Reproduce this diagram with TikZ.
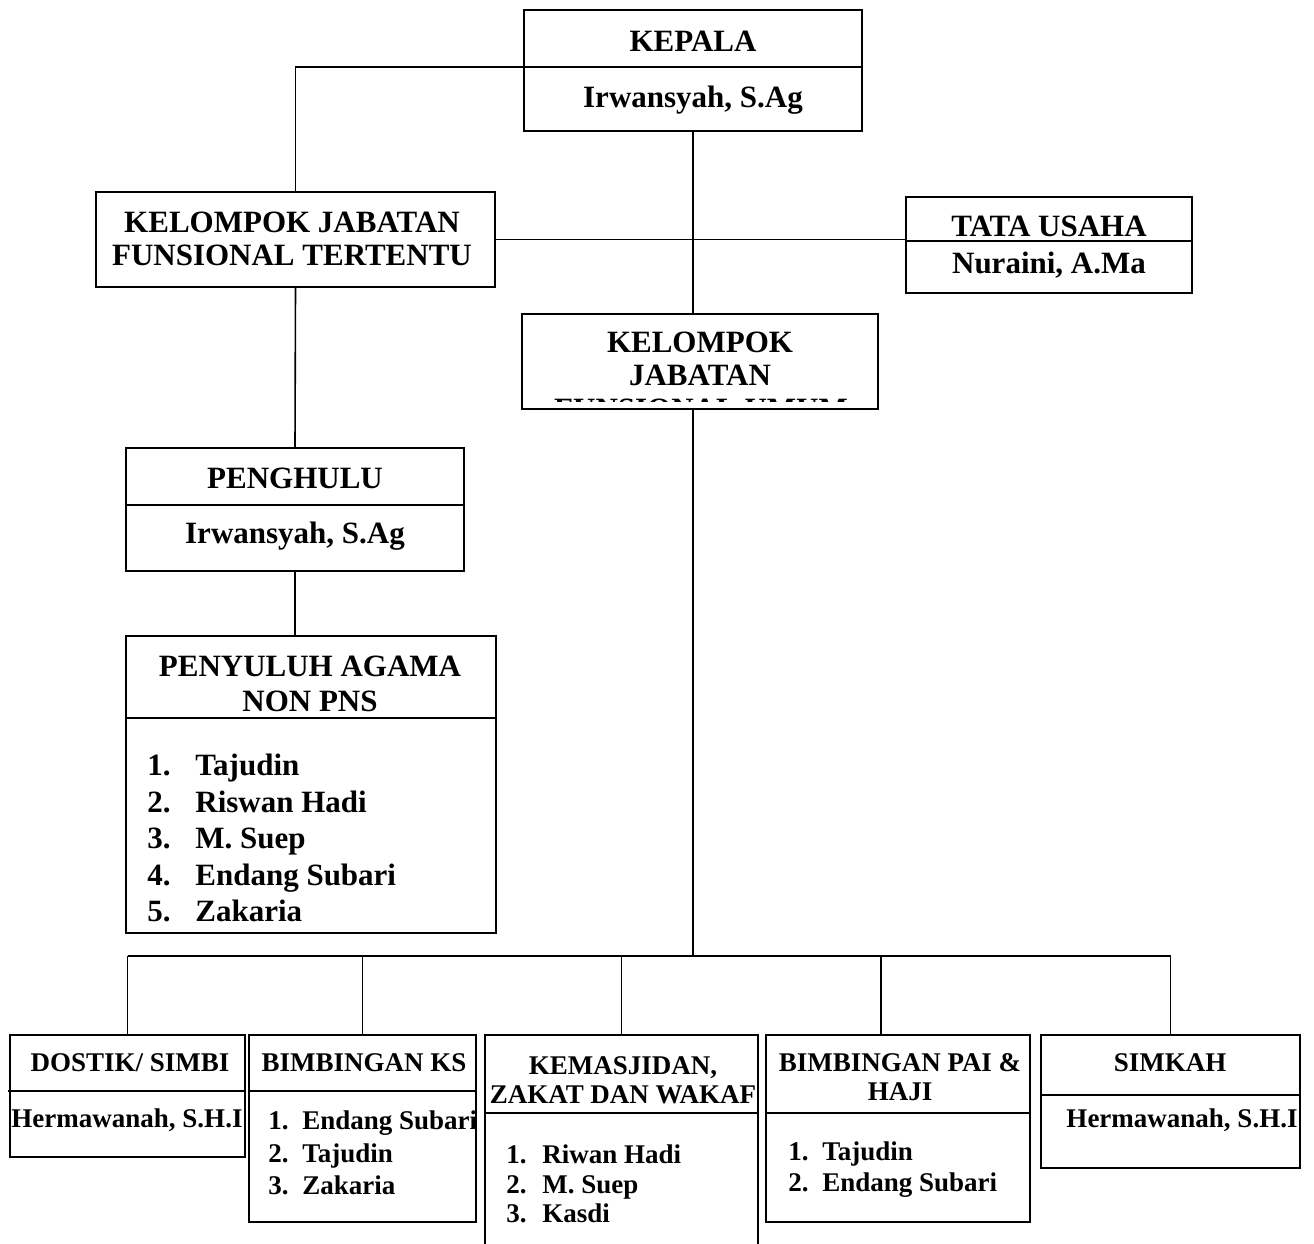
\documentclass[tikz,border=0pt]{standalone}
\usepackage{fontspec}
\setmainfont{Liberation Serif}
\usetikzlibrary{fit}
\newcommand{\orgitem}[3]{\makebox[#1][l]{#2}#3}

\tikzset{
    orgbox/.style={draw, line width=1pt, inner sep=0pt},
    split/.style={line width=1pt},
    link/.style={line width=0.8pt},
    bigtext/.style={font=\fontsize{15.5}{16.5}\selectfont\bfseries, align=center, inner sep=0pt},
    smalltext/.style={font=\fontsize{13.5}{14.5}\selectfont\bfseries, align=center, inner sep=0pt},
}

\begin{document}
\begin{tikzpicture}[x=0.5pt, y=-0.5pt]
    \useasboundingbox (0,0) rectangle (1314,1244);

    % Kepala
    \node[orgbox, fit={(524,10) (862,131)}] (kepala) {};
    \draw[split] (524,67) -- (862,67);
    \node[bigtext] (kepala-title) at (693,41) {KEPALA};
    \node[bigtext] (kepala-name) at (693,100) {Irwansyah, S.Ag};

    % Kelompok jabatan fungsional tertentu
    \node[orgbox, fit={(96,192) (495,287)}] (kjft) {};
    \node[bigtext] (kjft-title) at (292,239) {KELOMPOK JABATAN\\FUNSIONAL TERTENTU};

    % Tata usaha
    \node[orgbox, fit={(906,197) (1192,293)}] (tata) {};
    \draw[split] (906,241) -- (1192,241);
    \node[bigtext] (tata-title) at (1049,226) {TATA USAHA};
    \node[bigtext] (tata-name) at (1049,265) {Nuraini, A.Ma};

    % Kelompok jabatan (third line cut off by the box)
    \node[orgbox, fit={(522,314) (878,409)}] (kjfu) {};
    \node[bigtext] (kjfu-title) at (700,359) {KELOMPOK\\JABATAN};
    \begin{scope}
        \clip (524,397.5) rectangle (876,401);
        \node[bigtext] (kjfu-cut) at (701,409) {FUNSIONAL UMUM};
    \end{scope}

    % Penghulu
    \node[orgbox, fit={(126,448) (464,571)}] (penghulu) {};
    \draw[split] (126,505) -- (464,505);
    \node[bigtext] (penghulu-title) at (295,478) {PENGHULU};
    \node[bigtext] (penghulu-name) at (295,536) {Irwansyah, S.Ag};

    % Penyuluh agama
    \node[orgbox, fit={(126,636) (496,933)}] (penyuluh) {};
    \draw[split] (126,718) -- (496,718);
    \node[bigtext, font=\fontsize{15.5}{17.5}\selectfont\bfseries] (penyuluh-title) at (310,684) {PENYULUH AGAMA\\NON PNS};
    \node[bigtext, font=\fontsize{15.5}{18.25}\selectfont\bfseries, align=left, anchor=west] (penyuluh-list) at (147,838)
        {\orgitem{24pt}{1.}{Tajudin}\\\orgitem{24pt}{2.}{Riswan Hadi}\\\orgitem{24pt}{3.}{M. Suep}\\\orgitem{24pt}{4.}{Endang Subari}\\\orgitem{24pt}{5.}{Zakaria}};

    % Seksi di bawah
    \node[orgbox, fit={(10,1035) (245,1157)}] (dostik) {};
    \draw[split] (8,1091) -- (245,1091);
    \node[smalltext] (dostik-title) at (130,1063) {DOSTIK/ SIMBI};
    \node[smalltext] (dostik-name) at (127,1120) {Hermawanah, S.H.I};

    \node[orgbox, fit={(249,1035) (476,1222)}] (ks) {};
    \draw[split] (249,1091) -- (476,1091);
    \node[smalltext] (ks-title) at (364,1063) {BIMBINGAN KS};
    \node[smalltext, font=\fontsize{13.5}{16.3}\selectfont\bfseries, align=left, anchor=west] (ks-list) at (268,1153)
        {\orgitem{17pt}{1.}{Endang Subari}\\\orgitem{17pt}{2.}{Tajudin}\\\orgitem{17pt}{3.}{Zakaria}};

    \node[orgbox, fit={(485,1035) (758,1270)}] (kemas) {};
    \draw[split] (485,1113) -- (758,1113);
    \node[smalltext] (kemas-title) at (623,1080) {KEMASJIDAN,\\ZAKAT DAN WAKAF};
    \node[smalltext, font=\fontsize{13.5}{14.8}\selectfont\bfseries, align=left, anchor=west] (kemas-list) at (506,1184)
        {\orgitem{18pt}{1.}{Riwan Hadi}\\\orgitem{18pt}{2.}{M. Suep}\\\orgitem{18pt}{3.}{Kasdi}};

    \node[orgbox, fit={(766,1035) (1030,1222)}] (pai) {};
    \draw[split] (766,1113) -- (1030,1113);
    \node[smalltext] (pai-title) at (900,1077) {BIMBINGAN PAI \&\\HAJI};
    \node[smalltext, font=\fontsize{13.5}{15.5}\selectfont\bfseries, align=left, anchor=west] (pai-list) at (788,1170)
        {\orgitem{17pt}{1.}{Tajudin}\\\orgitem{17pt}{2.}{Endang Subari}};

    \node[orgbox, fit={(1041,1035) (1300,1168)}] (simkah) {};
    \draw[split] (1041,1095) -- (1300,1095);
    \node[smalltext] (simkah-title) at (1170,1063) {SIMKAH};
    \node[smalltext] (simkah-name) at (1182,1120) {Hermawanah, S.H.I};

    % Garis penghubung
    \coordinate (bus) at (693,956);
    \coordinate (pai-in) at (881,1035);
    \draw[link] (kepala.west |- 0,67) -| (kjft.north);
    \draw[link] (kepala.south) -- (kepala.south |- kjfu.north);
    \draw[link] (kjft.east) -- (kjft.east -| tata.west);
    \draw[link] (kjft.south) -- (penghulu.north);
    \draw[link] (penghulu.south) -- (penghulu.south |- penyuluh.north);
    \draw[link] (kepala.south |- kjfu.south) -- (bus);
    \draw[link] (dostik.north |- bus) -- (simkah.north |- bus);
    \draw[link] (dostik.north |- bus) -- (dostik.north);
    \draw[link] (ks.north |- bus) -- (ks.north);
    \draw[link] (kemas.north |- bus) -- (kemas.north);
    \draw[link] (pai-in |- bus) -- (pai-in);
    \draw[link] (simkah.north |- bus) -- (simkah.north);

\end{tikzpicture}
\end{document}
